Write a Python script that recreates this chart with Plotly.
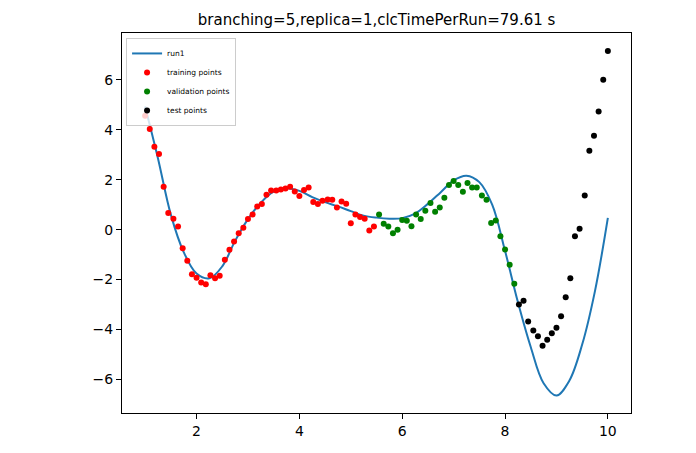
import plotly.graph_objects as go

# fitted curve (run1)
curve_x = [1.0, 1.25, 1.5, 1.75, 2.0, 2.25, 2.5, 2.75, 3.0, 3.25, 3.5, 3.75,
           4.0, 4.25, 4.5, 4.75, 5.0, 5.25, 5.5, 5.75, 6.0, 6.25, 6.5, 6.75,
           7.0, 7.25, 7.5, 7.75, 8.0, 8.25, 8.5, 8.75, 9.0, 9.25, 9.5, 9.75, 10.0]
curve_y = [4.93, 2.85, 0.6, -0.9, -1.76, -1.95, -1.47, -0.45, 0.42, 1.08, 1.52, 1.66,
           1.55, 1.3, 1.1, 0.93, 0.74, 0.56, 0.48, 0.44, 0.46, 0.64, 1.03, 1.5,
           1.97, 2.16, 1.9, 1.0, -0.85, -2.9, -4.7, -6.15, -6.64, -6.05, -4.6, -2.45, 0.47]

train_x = [1.00, 1.09, 1.18, 1.27, 1.36, 1.45, 1.55, 1.64, 1.73, 1.82, 1.91,
           2.00, 2.09, 2.18, 2.27, 2.36, 2.45, 2.55, 2.64, 2.73, 2.82, 2.91,
           3.00, 3.09, 3.18, 3.27, 3.36, 3.45, 3.55, 3.64, 3.73, 3.82, 3.91,
           4.00, 4.09, 4.18, 4.27, 4.36, 4.45, 4.55, 4.64, 4.73, 4.82, 4.91,
           5.00, 5.09, 5.18, 5.27, 5.36, 5.45]
train_y = [4.56, 4.03, 3.32, 3.03, 1.72, 0.67, 0.44, 0.12, -0.75, -1.25, -1.79,
           -1.93, -2.12, -2.19, -1.83, -1.95, -1.85, -1.21, -0.81, -0.48, -0.15, 0.07,
           0.43, 0.61, 0.93, 1.03, 1.40, 1.57, 1.57, 1.61, 1.65, 1.72, 1.53,
           1.35, 1.59, 1.69, 1.11, 1.03, 1.16, 1.21, 1.20, 0.89, 1.13, 1.04,
           0.25, 0.61, 0.51, 0.44, -0.04, 0.12]

val_x = [5.55, 5.64, 5.73, 5.82, 5.91,
         6.00, 6.09, 6.18, 6.27, 6.36, 6.45, 6.55, 6.64, 6.73, 6.82, 6.91,
         7.00, 7.09, 7.18, 7.27, 7.36, 7.45, 7.55, 7.64, 7.73, 7.82, 7.91,
         8.00, 8.09, 8.18]
val_y = [0.61, 0.23, 0.12, -0.15, -0.01,
         0.39, 0.36, 0.13, 0.61, 0.43, 0.76, 1.07, 0.72, 0.89, 1.28, 1.79,
         1.95, 1.79, 1.52, 1.87, 1.69, 1.69, 1.37, 1.20, 0.27, 0.37, -0.27,
         -0.80, -1.41, -2.17]

test_x = [8.27, 8.36, 8.45, 8.55, 8.64, 8.73, 8.82, 8.91,
          9.00, 9.09, 9.18, 9.27, 9.36, 9.45, 9.55, 9.64, 9.73, 9.82, 9.91, 10.00]
test_y = [-3.00, -2.85, -3.68, -4.04, -4.27, -4.65, -4.41, -4.15,
          -3.93, -3.47, -2.71, -1.95, -0.27, 0.03, 1.37, 3.16, 3.76, 4.73, 6.00, 7.15]

fig = go.Figure()
fig.add_trace(go.Scatter(x=curve_x, y=curve_y, mode='lines', name='run1',
                         line=dict(color='#1f77b4', width=2, shape='spline')))
fig.add_trace(go.Scatter(x=train_x, y=train_y, mode='markers', name='training points',
                         marker=dict(color='red', size=6)))
fig.add_trace(go.Scatter(x=val_x, y=val_y, mode='markers', name='validation points',
                         marker=dict(color='green', size=6)))
fig.add_trace(go.Scatter(x=test_x, y=test_y, mode='markers', name='test points',
                         marker=dict(color='black', size=6)))

axis_style = dict(showline=True, mirror=True, linecolor='black', linewidth=1,
                  ticks='outside', ticklen=5, tickcolor='black', showgrid=False,
                  zeroline=False, automargin=False, tickfont=dict(size=14, color='black'))
fig.update_xaxes(range=[0.55, 10.45], tickvals=[2, 4, 6, 8, 10], **axis_style)
fig.update_yaxes(range=[-7.34, 7.87], tickvals=[-6, -4, -2, 0, 2, 4, 6], **axis_style)

# page body has an 8px margin, so the figure is a bit smaller than the window
fig.update_layout(
    width=680, height=437,
    margin=dict(l=114, r=57, t=25, b=32),
    paper_bgcolor='white', plot_bgcolor='white',
    font=dict(family='DejaVu Sans', color='black'),
    title=dict(text='branching=5,replica=1,clcTimePerRun=79.61 s', x=0.542, xanchor='center',
               y=0.9725, yanchor='middle', font=dict(size=15, color='black')),
    legend=dict(x=0.008, y=0.987, xanchor='left', yanchor='top',
                bgcolor='rgba(255,255,255,0.8)', bordercolor='#cccccc', borderwidth=1,
                font=dict(size=7.5), itemwidth=30),
)

fig.write_html("out.html")
